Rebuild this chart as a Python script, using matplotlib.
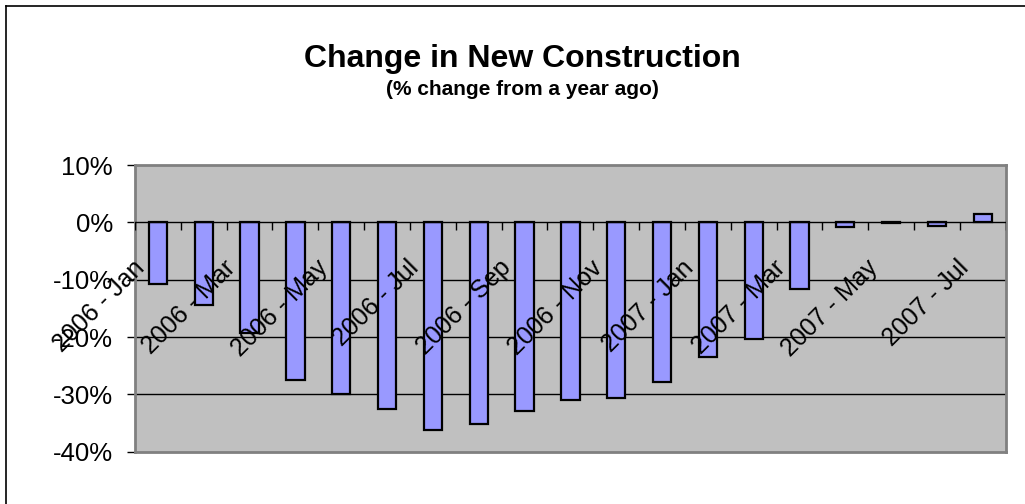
import numpy as np
import matplotlib
matplotlib.use("Agg")
import matplotlib.pyplot as plt
from matplotlib.lines import Line2D

plt.rcParams['font.family'] = ['Liberation Sans', 'DejaVu Sans']

months = ["2006 - Jan", "2006 - Feb", "2006 - Mar", "2006 - Apr", "2006 - May",
          "2006 - Jun", "2006 - Jul", "2006 - Aug", "2006 - Sep", "2006 - Oct",
          "2006 - Nov", "2006 - Dec", "2007 - Jan", "2007 - Feb", "2007 - Mar",
          "2007 - Apr", "2007 - May", "2007 - Jun", "2007 - Jul"]
change = [-10.7, -14.5, -19.3, -27.5, -29.9, -32.6, -36.2, -35.2, -32.9, -31.0,
          -30.7, -27.8, -23.5, -20.3, -11.6, -0.8, -0.1, -0.6, 1.5]
yticks = [10, 0, -10, -20, -30, -40]

fig = plt.figure(figsize=(10.25, 5.04), dpi=100)
ax = fig.add_axes([0.1317, 0.1038, 0.8495, 0.5688])
ax.set_facecolor('#C0C0C0')

x = np.arange(len(months))
ax.bar(x, change, width=0.4, color='#9999FF', edgecolor='black', linewidth=1.6, zorder=3)

ax.set_xlim(-0.5, len(months) - 0.5)
ax.set_ylim(-40, 10)
ax.set_yticks(yticks)
ax.set_yticklabels([f"{v}%" for v in yticks], fontsize=18.5)
ax.tick_params(axis='y', direction='out', length=6, width=1, color='black', pad=10)
ax.set_xticks([])

for v in [-10, -20, -30]:
    ax.axhline(v, color='black', lw=1, zorder=1)
ax.axhline(0, color='black', lw=1, zorder=4)
# category ticks on the zero line
ax.vlines(np.arange(len(months) + 1) - 0.5, -1.4, 0, colors='black', lw=1, zorder=4)

for s in ax.spines.values():
    s.set_color('#808080')
    s.set_linewidth(2)

for i in range(0, len(months), 2):
    ax.annotate(months[i], xy=(x[i], 0), xytext=(-6.5, -24), textcoords='offset points',
                ha='right', va='top', rotation=45, fontsize=18, zorder=5)

fig.text(0.51, 1 - 67 / 504, "Change in New Construction", ha='center', va='baseline',
         fontsize=23, fontweight='bold')
fig.text(0.51, 1 - 95 / 504, "(% change from a year ago)", ha='center', va='baseline',
         fontsize=15, fontweight='bold')

# chart frame (only left and top edges are visible)
fig.add_artist(Line2D([6 / 1025, 6 / 1025], [0, 1 - 6 / 504], color='black', lw=1.2))
fig.add_artist(Line2D([6 / 1025, 1], [1 - 6 / 504, 1 - 6 / 504], color='black', lw=1.2))

fig.savefig("out.png", dpi=100)
